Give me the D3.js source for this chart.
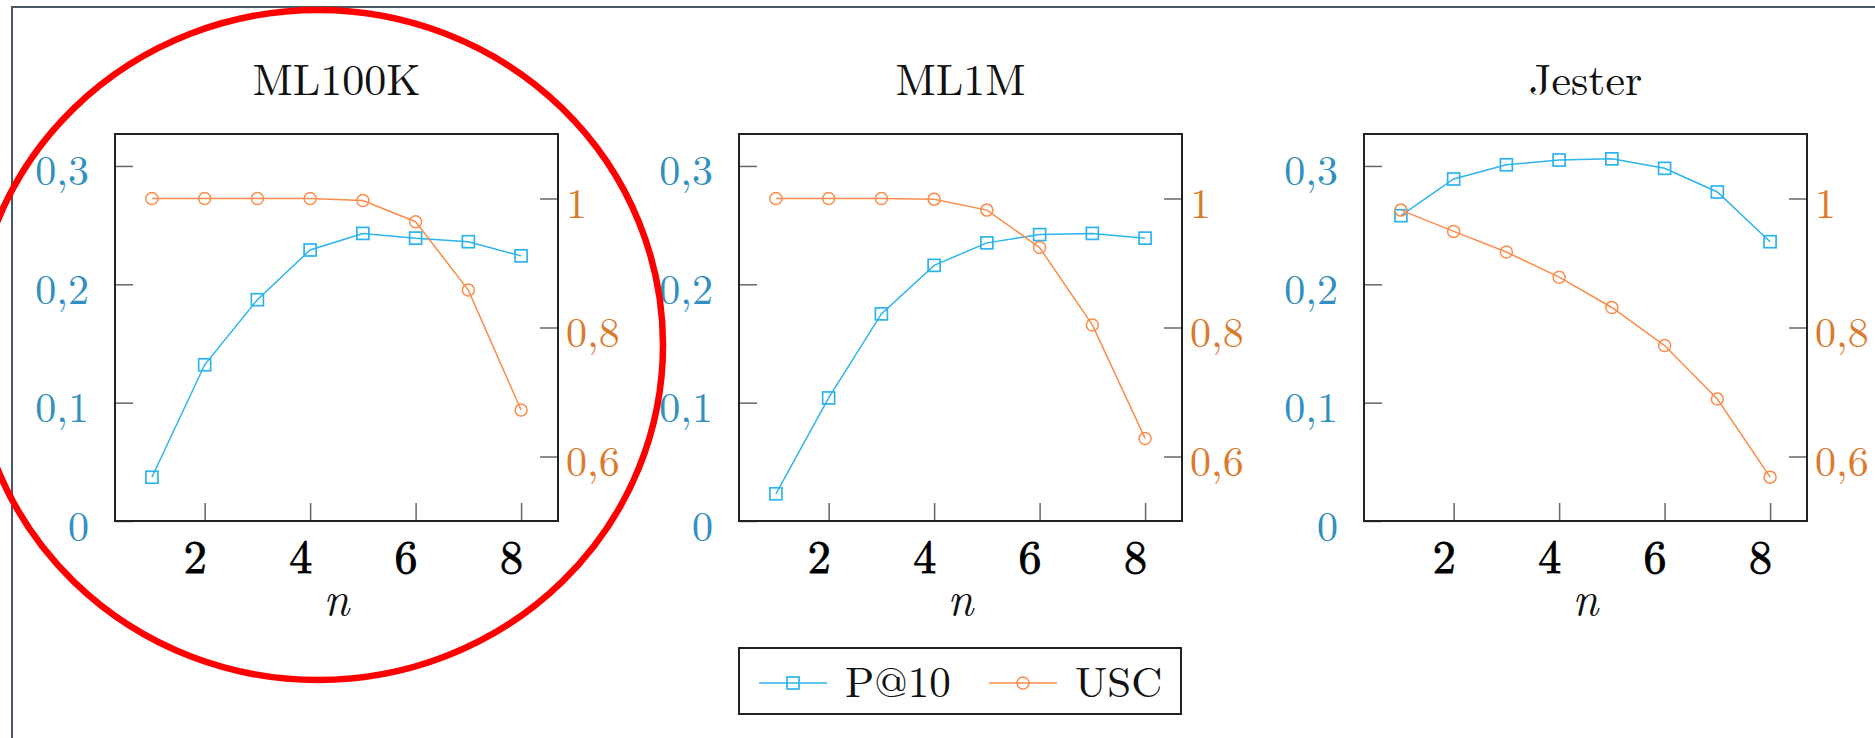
<!DOCTYPE html>
<html>
<head>
<meta charset="utf-8">
<script src="https://cdn.jsdelivr.net/npm/d3@7"></script>
<style>
    body { margin: 0; background: #fff; }
    text { font-family: "Latin Modern Roman", "Liberation Serif", serif; }
</style>
</head>
<body>
<div id="chart"></div>
<script>
// x values (n) shared by every panel
const nValues = [1, 2, 3, 4, 5, 6, 7, 8];
const datasetNames = ["ML100K", "ML1M", "Jester"];

// P@10 (left axis) per dataset
const precisionML100K = [0.037, 0.132, 0.187, 0.229, 0.243, 0.239, 0.236, 0.224];
const precisionML1M   = [0.023, 0.104, 0.175, 0.216, 0.235, 0.242, 0.243, 0.239];
const precisionJester = [0.258, 0.289, 0.301, 0.305, 0.306, 0.298, 0.278, 0.236];

// USC (right axis) per dataset
const uscML100K = [1.0, 1.0, 1.0, 1.0, 0.997, 0.964, 0.858, 0.672];
const uscML1M   = [1.0, 1.0, 1.0, 0.999, 0.982, 0.924, 0.804, 0.628];
const uscJester = [0.982, 0.949, 0.917, 0.878, 0.831, 0.772, 0.689, 0.568];

// ticks and labels
const xTicks = [2, 4, 6, 8];
const leftTicks = [0, 0.1, 0.2, 0.3];
const leftTickLabels = ["0", "0,1", "0,2", "0,3"];
const rightTicks = [0.6, 0.8, 1];
const rightTickLabels = ["0,6", "0,8", "1"];
const seriesNames = ["P@10", "USC"];

const precisionSeries = [precisionML100K, precisionML1M, precisionJester];
const uscSeries = [uscML100K, uscML1M, uscJester];

// layout
const W = 1875, H = 738;
const panelLefts = [115, 739, 1364];
const panelWidth = 443;
const plotTop = 134, plotBottom = 521;
const fontFamily = '"Latin Modern Roman", "Liberation Serif", serif';

const blue = "#2db4ec";
const orange = "#fb8c4b";
const leftLabelColor = "#3190c0";
const rightLabelColor = "#dc7a2c";

const svg = d3.select("#chart")
    .append("svg")
    .attr("width", W)
    .attr("height", H);

// outer frame (only top and left edges are visible)
svg.append("rect")
    .attr("x", 12)
    .attr("y", 7)
    .attr("width", W + 40)
    .attr("height", H + 40)
    .attr("fill", "none")
    .attr("stroke", "#4a5568")
    .attr("stroke-width", 2);

const xScale = d3.scaleLinear().domain([0.3, 8.7]).range([0, panelWidth]);
const yLeft = d3.scaleLinear().domain([0, 0.327]).range([plotBottom - plotTop, 0]);
const yRight = d3.scaleLinear().domain([0.5, 1.1]).range([plotBottom - plotTop, 0]);
const plotH = plotBottom - plotTop;

function drawSquare(g, cx, cy, color) {
    g.append("rect")
        .attr("x", cx - 6)
        .attr("y", cy - 6)
        .attr("width", 12)
        .attr("height", 12)
        .attr("fill", "none")
        .attr("stroke", color)
        .attr("stroke-width", 1.7);
}

function drawCircle(g, cx, cy, color) {
    g.append("circle")
        .attr("cx", cx)
        .attr("cy", cy)
        .attr("r", 6)
        .attr("fill", "none")
        .attr("stroke", color)
        .attr("stroke-width", 1.5);
}

datasetNames.forEach((name, i) => {
    const g = svg.append("g")
        .attr("transform", `translate(${panelLefts[i]},${plotTop})`);

    // title
    g.append("text")
        .attr("x", panelWidth / 2)
        .attr("y", 95 - plotTop)
        .attr("text-anchor", "middle")
        .style("font-size", "44px")
        .style("fill", "#111")
        .text(name);

    // left axis (ticks point inward)
    const leftAxis = g.append("g")
        .call(d3.axisLeft(yLeft)
            .tickValues(leftTicks)
            .tickSize(-18)
            .tickPadding(26)
            .tickFormat((d, k) => leftTickLabels[k]));
    leftAxis.select(".domain").remove();
    leftAxis.selectAll("line").attr("stroke", "#666").attr("stroke-width", 1.5);
    leftAxis.selectAll("text")
        .attr("dy", 19)
        .style("font-size", "42px")
        .style("font-family", fontFamily)
        .attr("fill", leftLabelColor);

    // right axis
    const rightAxis = g.append("g")
        .attr("transform", `translate(${panelWidth},0)`)
        .call(d3.axisRight(yRight)
            .tickValues(rightTicks)
            .tickSize(-18)
            .tickPadding(8)
            .tickFormat((d, k) => rightTickLabels[k]));
    rightAxis.select(".domain").remove();
    rightAxis.selectAll("line").attr("stroke", "#666").attr("stroke-width", 1.5);
    rightAxis.selectAll("text")
        .attr("dy", 19)
        .style("font-size", "42px")
        .style("font-family", fontFamily)
        .attr("fill", rightLabelColor);

    // bottom axis
    const bottomAxis = g.append("g")
        .attr("transform", `translate(0,${plotH})`)
        .call(d3.axisBottom(xScale)
            .tickValues(xTicks)
            .tickSize(-18)
            .tickFormat(d3.format("d")));
    bottomAxis.select(".domain").remove();
    bottomAxis.selectAll("line").attr("stroke", "#666").attr("stroke-width", 1.5);
    bottomAxis.selectAll("text")
        .attr("y", 52)
        .attr("dy", 0)
        .attr("dx", -10)
        .style("font-size", "46px")
        .style("font-family", fontFamily)
        .attr("fill", "#000")
        .attr("stroke", "#000")
        .attr("stroke-width", 0.9);

    // x axis label
    g.append("text")
        .attr("x", panelWidth / 2)
        .attr("y", 615 - plotTop)
        .attr("text-anchor", "middle")
        .style("font-size", "46px")
        .style("font-style", "italic")
        .style("fill", "#111")
        .text("n");

    // plot box
    g.append("rect")
        .attr("width", panelWidth)
        .attr("height", plotH)
        .attr("fill", "none")
        .attr("stroke", "#222")
        .attr("stroke-width", 2);

    const pPoints = nValues.map((n, k) => ({n: n, v: precisionSeries[i][k]}));
    const uPoints = nValues.map((n, k) => ({n: n, v: uscSeries[i][k]}));

    const lineLeft = d3.line().x(d => xScale(d.n)).y(d => yLeft(d.v));
    const lineRight = d3.line().x(d => xScale(d.n)).y(d => yRight(d.v));

    g.append("path")
        .datum(pPoints)
        .attr("d", lineLeft)
        .attr("fill", "none")
        .attr("stroke", blue)
        .attr("stroke-width", 1.5);
    pPoints.forEach(d => drawSquare(g, xScale(d.n), yLeft(d.v), blue));

    g.append("path")
        .datum(uPoints)
        .attr("d", lineRight)
        .attr("fill", "none")
        .attr("stroke", orange)
        .attr("stroke-width", 1.5);
    uPoints.forEach(d => drawCircle(g, xScale(d.n), yRight(d.v), orange));
});

// legend
const legend = svg.append("g").attr("transform", "translate(739,648)");
legend.append("rect")
    .attr("width", 442)
    .attr("height", 66)
    .attr("fill", "#fff")
    .attr("stroke", "#222")
    .attr("stroke-width", 2);

const legendItems = [
    {name: seriesNames[0], color: blue, x: 20, marker: drawSquare},
    {name: seriesNames[1], color: orange, x: 250, marker: drawCircle}
];
legendItems.forEach(item => {
    legend.append("line")
        .attr("x1", item.x)
        .attr("x2", item.x + 68)
        .attr("y1", 35)
        .attr("y2", 35)
        .attr("stroke", item.color)
        .attr("stroke-width", 1.5);
    item.marker(legend, item.x + 34, 35, item.color);
    legend.append("text")
        .attr("x", item.x + 86)
        .attr("y", 49)
        .style("font-size", "43px")
        .style("fill", "#111")
        .text(item.name);
});

// red annotation ellipse around the first panel
svg.append("ellipse")
    .attr("cx", 318)
    .attr("cy", 345)
    .attr("rx", 345)
    .attr("ry", 335)
    .attr("fill", "none")
    .attr("stroke", "#ff0000")
    .attr("stroke-width", 6.5);
</script>
</body>
</html>
